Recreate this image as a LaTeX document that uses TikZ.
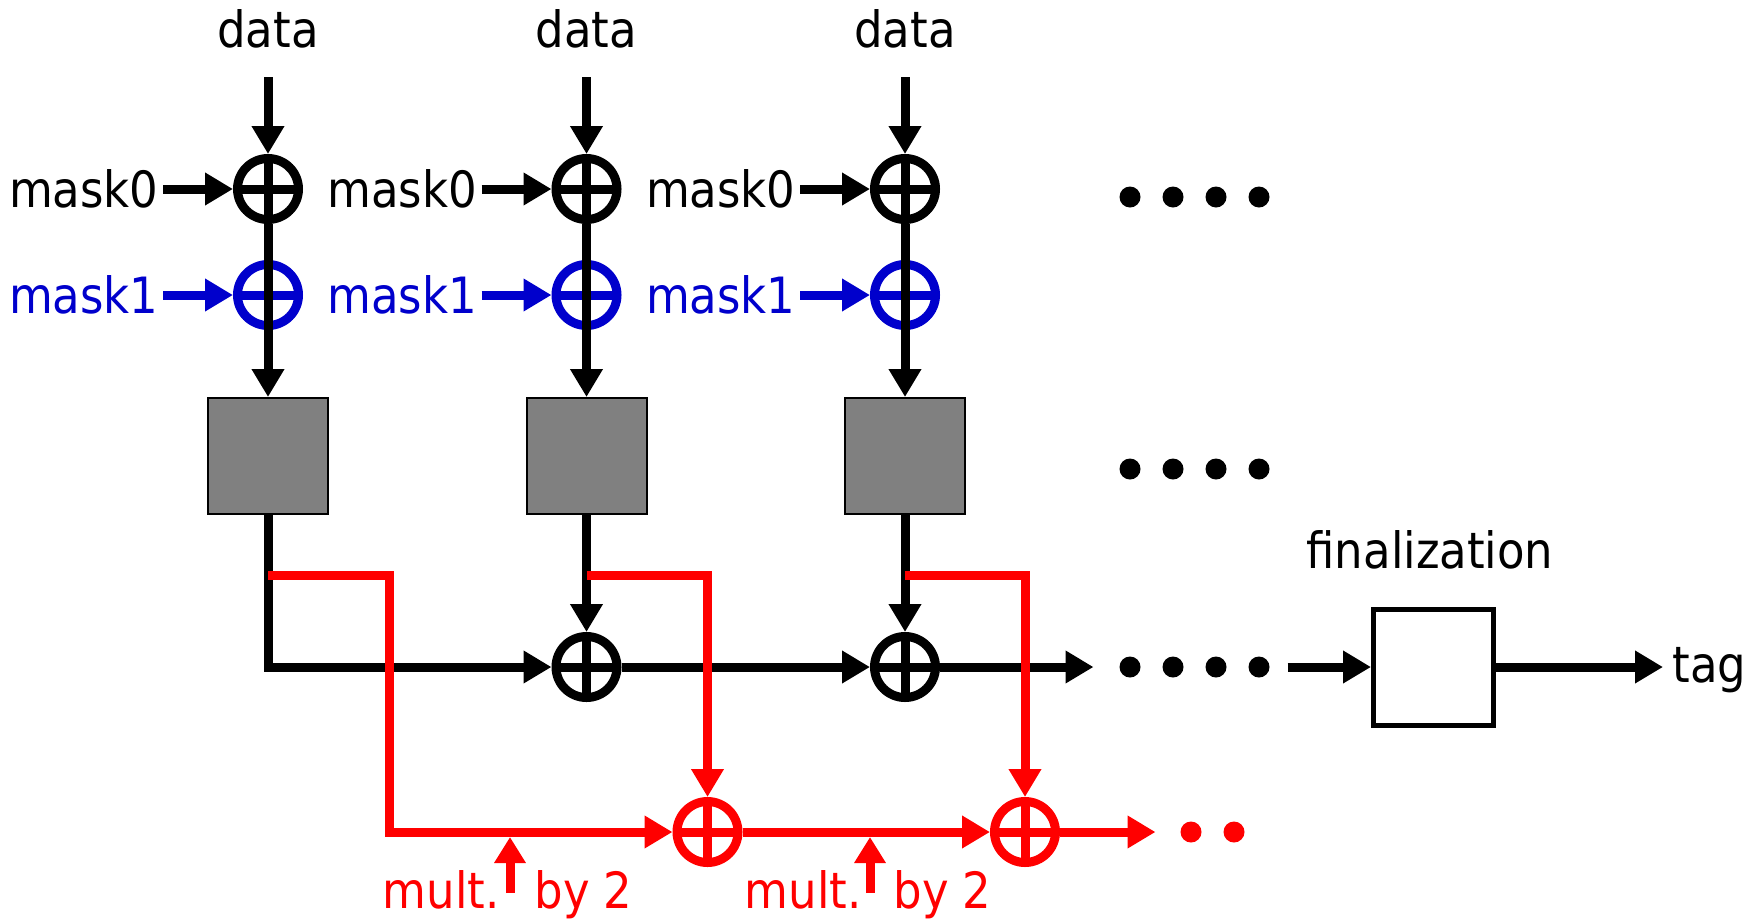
\documentclass[tikz,border=0pt]{standalone}
\usepackage{fontspec}
\setmainfont{DejaVu Sans Condensed}
\usepackage{tikz}
\usetikzlibrary{arrows.meta}
\definecolor{maskblue}{RGB}{0,0,204}

\begin{document}
\begin{tikzpicture}[x=1pt, y=-1pt, line width=9pt,
    font=\fontsize{50}{60}\selectfont,
    arr/.style={-{Triangle[length=28pt,width=31pt]}},
    lbl/.style={inner sep=0pt},
    xorc/.style={circle, draw=#1, line width=9pt, minimum size=61pt, inner sep=0pt,
      path picture={\draw[#1, line width=9pt]
        (path picture bounding box.north) -- (path picture bounding box.south)
        (path picture bounding box.west) -- (path picture bounding box.east);}},
    xorh/.style={circle, draw=#1, line width=9pt, minimum size=61pt, inner sep=0pt,
      path picture={\draw[#1, line width=9pt]
        (path picture bounding box.west) -- (path picture bounding box.east);}},
    sbox/.style={draw=black, line width=2pt, fill=gray, minimum width=120pt,
      minimum height=116pt, inner sep=0pt},
    fbox/.style={draw, line width=5pt, minimum width=120pt, minimum height=116pt,
      inner sep=0pt},
    dot/.style={circle, fill=#1, inner sep=0pt, minimum size=21pt}]
    \useasboundingbox (0,0) rectangle (1759,919);

    % Inputs
    \node[lbl, anchor=base] (da) at (268,47) {data};
    \node[lbl, anchor=base] (db) at (586.5,47) {data};
    \node[lbl, anchor=base] (dc) at (905,47) {data};
    \node[lbl, anchor=east] (m0a) at (163,189) {mask0};
    \node[lbl, anchor=east] (m0b) at (481.5,189) {mask0};
    \node[lbl, anchor=east] (m0c) at (800,189) {mask0};
    \node[lbl, anchor=east, maskblue] (m1a) at (163,295) {mask1};
    \node[lbl, anchor=east, maskblue] (m1b) at (481.5,295) {mask1};
    \node[lbl, anchor=east, maskblue] (m1c) at (800,295) {mask1};

    % Mask xors and blocks
    \node[xorc=black] (x0a) at (268,189) {};
    \node[xorc=black] (x0b) at (586.5,189) {};
    \node[xorc=black] (x0c) at (905,189) {};
    \node[xorh=maskblue] (x1a) at (268,295) {};
    \node[xorh=maskblue] (x1b) at (586.5,295) {};
    \node[xorh=maskblue] (x1c) at (905,295) {};
    \node[sbox] (ba) at (268,456) {};
    \node[sbox] (bb) at (586.5,456) {};
    \node[sbox] (bc) at (905,456) {};

    % Accumulators
    \node[xorc=black] (xmb) at (586.5,667) {};
    \node[xorc=black] (xmc) at (905,667) {};
    \node[xorc=red] (xra) at (707.5,832) {};
    \node[xorc=red] (xrb) at (1025,832) {};
    \node[fbox] (fin) at (1433.5,667) {};
    \node[lbl, anchor=base] (finl) at (1430,568) {finalization};
    \node[lbl, anchor=base west] (tag) at (1668,682) {tag};

    % Dots
    \node[dot=black] (td1) at (1130,197) {};
    \node[dot=black] (td2) at (1173,197) {};
    \node[dot=black] (td3) at (1216,197) {};
    \node[dot=black] (td4) at (1259,197) {};
    \node[dot=black] (bd1) at (1130,469) {};
    \node[dot=black] (bd2) at (1173,469) {};
    \node[dot=black] (bd3) at (1216,469) {};
    \node[dot=black] (bd4) at (1259,469) {};
    \node[dot=black] (md1) at (1130,667) {};
    \node[dot=black] (md2) at (1173,667) {};
    \node[dot=black] (md3) at (1216,667) {};
    \node[dot=black] (md4) at (1259,667) {};
    \node[dot=red] (rd1) at (1191,832) {};
    \node[dot=red] (rd2) at (1234,832) {};

    % Mask arrows
    \draw[arr, shorten <=25pt] (da) -- (x0a);
    \draw[arr, shorten <=25pt] (db) -- (x0b);
    \draw[arr, shorten <=25pt] (dc) -- (x0c);
    \draw[arr] (m0a) -- (x0a);
    \draw[arr] (m0b) -- (x0b);
    \draw[arr] (m0c) -- (x0c);
    \draw[arr, maskblue] (m1a) -- (x1a);
    \draw[arr, maskblue] (m1b) -- (x1b);
    \draw[arr, maskblue] (m1c) -- (x1c);
    \draw[arr] (x0a) -- (ba);
    \draw[arr] (x0b) -- (bb);
    \draw[arr] (x0c) -- (bc);

    % Black chain
    \draw[arr] (ba) |- (xmb);
    \draw[arr] (bb) -- (xmb);
    \draw[arr] (bc) -- (xmc);
    \draw[arr] (xmb) -- (xmc);
    \draw[arr, shorten >=21.5pt] (xmc) -- (md1);
    \draw[arr, shorten <=13.5pt] (md4) -- (fin);
    \draw[arr, shorten >=5pt] (fin) -- (fin -| tag.west);

    % Red chain
    \coordinate (sa) at (268,575);
    \coordinate (sb) at (586.5,575);
    \coordinate (sc) at (905,575);
    \draw[arr, red] (sa) -- ++(121,0) |- (xra);
    \draw[arr, red] (sb) -| (xra);
    \draw[arr, red] (sc) -| (xrb);
    \draw[arr, red] (xra) -- (xrb);
    \draw[arr, red, shorten >=20.5pt] (xrb) -- (rd1);

    % Doubling labels
    \node[lbl, red, anchor=base east] (mla) at (504,908) {mult.};
    \node[lbl, red, anchor=base west] (bya) at (530,908) {by 2};
    \node[lbl, red, anchor=base east] (mlb) at (866,908) {mult.};
    \node[lbl, red, anchor=base west] (byb) at (889,908) {by 2};
    \coordinate (ua) at (510,893);
    \coordinate (va) at (510,837);
    \coordinate (ub) at (870,893);
    \coordinate (vb) at (870,837);
    \draw[red, -{Triangle[length=26pt,width=30pt]}] (ua) -- (va);
    \draw[red, -{Triangle[length=26pt,width=30pt]}] (ub) -- (vb);
\end{tikzpicture}
\end{document}
